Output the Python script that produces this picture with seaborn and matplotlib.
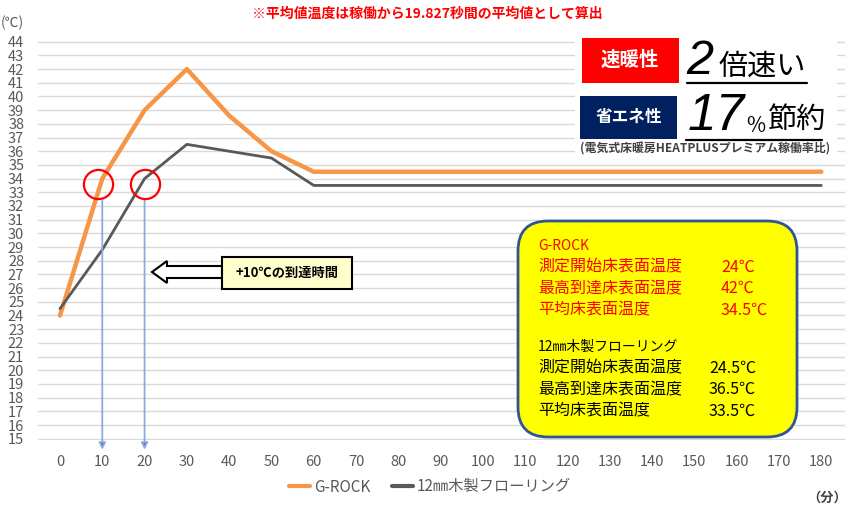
import matplotlib
matplotlib.use("Agg")
import matplotlib.pyplot as plt
import seaborn as sns
import pandas as pd
from matplotlib.transforms import Affine2D
from matplotlib.patches import Rectangle, FancyBboxPatch, Polygon
from matplotlib.lines import Line2D

# ---------------- data ----------------
minutes = [0, 10, 20, 30, 40, 50, 60, 70, 80, 90, 100, 110, 120, 130, 140, 150, 160, 170, 180]
grock = [24, 34, 39, 42, 38.6, 36, 34.5, 34.5, 34.5, 34.5, 34.5, 34.5, 34.5, 34.5, 34.5, 34.5, 34.5, 34.5, 34.5]
wood = [24.5, 28.8, 34, 36.5, 36, 35.5, 33.5, 33.5, 33.5, 33.5, 33.5, 33.5, 33.5, 33.5, 33.5, 33.5, 33.5, 33.5, 33.5]
series_names = ["G-ROCK", "12㎜木製フローリング"]
ytick_values = list(range(15, 45))
xtick_labels = [str(m) for m in minutes]
reach_minutes = [9, 20]      # red circles (time to +10℃)
reach_temp = 33.6
arrow_minutes = [10, 20]     # blue drop arrows

title = "※平均値温度は稼働から19.827秒間の平均値として算出"
grock_rows = [("測定開始床表面温度", "24℃"), ("最高到達床表面温度", "42℃"), ("平均床表面温度", "34.5℃")]
wood_rows = [("測定開始床表面温度", "24.5℃"), ("最高到達床表面温度", "36.5℃"), ("平均床表面温度", "33.5℃")]

df = pd.DataFrame({
    "minute": minutes * 2,
    "temp": grock + wood,
    "series": [series_names[0]] * len(minutes) + [series_names[1]] * len(minutes),
})

# ---------------- style ----------------
sns.set_theme(style="white")
plt.rcParams["font.family"] = ["Noto Sans CJK JP", "DejaVu Sans"]

W, H = 849, 505
fig = plt.figure(figsize=(W / 100, H / 100), dpi=100)
T = Affine2D().scale(1 / W, -1 / H).translate(0, 1) + fig.transFigure

y0, y1 = 14.9, 44.1
ppd = 13.69
top_px = 41.7 - (y1 - 44) * ppd
bot_px = 438.7 + (15 - y0) * ppd
ax = fig.add_axes([38 / W, 1 - bot_px / H, (845 - 38) / W, (bot_px - top_px) / H])

colors = {series_names[0]: "#F79646", series_names[1]: "#595959"}
widths = {series_names[0]: 3.2, series_names[1]: 2.0}
for name in series_names:
    sns.lineplot(data=df[df["series"] == name], x="minute", y="temp", ax=ax,
                 color=colors[name], linewidth=widths[name], label=name, zorder=3)

ax.set_xlim(-5.2, 185.6)
ax.set_ylim(y0, y1)
ax.set_yticks(ytick_values)
ax.set_xticks(minutes)
ax.set_xticklabels(xtick_labels)
ax.set_xlabel("")
ax.set_ylabel("")
ax.yaxis.grid(True, color="#D9D9D9", linewidth=1)
ax.xaxis.grid(False)
for s in ax.spines.values():
    s.set_visible(False)
ax.tick_params(axis="both", length=0, labelsize=10.5, colors="#595959")
ax.tick_params(axis="y", pad=10)
ax.tick_params(axis="x", pad=11)

# blue drop arrows
for m in arrow_minutes:
    ax.annotate("", xy=(m, 14.2), xytext=(m, 32.4),
                arrowprops=dict(arrowstyle="-|>", ec="#8EAADB", fc="#4472C4", lw=1.3,
                                mutation_scale=10, shrinkA=0, shrinkB=0),
                annotation_clip=False, zorder=4)

# red circles
ax.plot(reach_minutes, [reach_temp] * len(reach_minutes), "o", ms=21, mfc="none",
        mec="#FF0000", mew=1.6, clip_on=False, zorder=5)

# legend
h, l = ax.get_legend_handles_labels()
leg = ax.legend(h, l, loc="center", bbox_to_anchor=(430 / W, 1 - 487 / H),
                bbox_transform=fig.transFigure, ncol=2, frameon=False, fontsize=11,
                handlelength=1.4, handletextpad=0.25, columnspacing=1.4, labelcolor="#595959")
for ln in leg.get_lines():
    ln.set_linewidth(3)

# ---------------- annotations ----------------
def ftext(x, y, s, **kw):
    kw.setdefault("transform", T)
    kw.setdefault("zorder", 4)
    return fig.text(x, y, s, **kw)

ftext(427, 14, title, color="#FF0000", fontsize=10, fontweight="bold", ha="center", va="center")
ftext(1, 23, "(℃)", color="#595959", fontsize=10, ha="left", va="center")
ftext(847, 498, "（分）", color="#404040", fontsize=9.5, fontweight="bold", ha="right", va="center")

# top-right panel
fig.add_artist(Rectangle((575, 31), 262, 128, transform=T, fc="white", ec="none", zorder=1))
fig.add_artist(Rectangle((582, 38), 97, 45, transform=T, fc="#FF0000", ec="none", zorder=2))
fig.add_artist(Rectangle((580, 96), 97, 43, transform=T, fc="#002060", ec="none", zorder=2))
ftext(630, 60, "速暖性", color="white", fontsize=14, fontweight="bold", ha="center", va="center")
ftext(629, 117, "省エネ性", color="white", fontsize=12, fontweight="bold", ha="center", va="center")
ftext(700, 61, "2", family="Liberation Sans", style="italic", fontsize=35, color="black",
      ha="center", va="center")
ftext(719, 67, "倍速い", fontsize=21, color="black", ha="left", va="center")
ftext(716, 117, "17", family="Liberation Sans", style="italic", fontsize=37, color="black",
      ha="center", va="center")
ftext(746, 126, "%", fontsize=15, color="black", ha="left", va="center")
ftext(768, 120, "節約", fontsize=21, color="black", ha="left", va="center")
fig.add_artist(Line2D([687, 807], [83, 83], transform=T, color="black", lw=1.6, zorder=3))
fig.add_artist(Line2D([686, 822], [140, 140], transform=T, color="black", lw=1.6, zorder=3))
ftext(705, 149, "(電気式床暖房HEATPLUSプレミアム稼働率比)", fontsize=8.6, fontweight="bold",
      color="#404040", ha="center", va="center")

# block arrow with label box
arrow_pts = [(152, 272), (167, 261), (167, 266), (222, 266), (222, 278), (167, 278), (167, 283)]
fig.add_artist(Polygon(arrow_pts, closed=True, transform=T, fc="white", ec="black", lw=1.5, zorder=2))
fig.add_artist(Rectangle((222, 257), 130, 32, transform=T, fc="#FFFFCC", ec="black", lw=1.5, zorder=2))
ftext(287, 273, "+10℃の到達時間", fontsize=9.5, fontweight="bold", color="black",
      ha="center", va="center")

# yellow summary box
fig.add_artist(FancyBboxPatch((518, 221), 279, 216, boxstyle="round,pad=0,rounding_size=30",
                              transform=T, fc="#FFFF00", ec="#2F5597", lw=2, zorder=2))
ftext(538, 246, series_names[0], color="#FF0000", fontsize=10, ha="left", va="center")
for i, (lab, val) in enumerate(grock_rows):
    yy = 267 + i * 21.5
    ftext(538, yy, lab, color="#FF0000", fontsize=11.5, ha="left", va="center")
    ftext(721, yy, val, color="#FF0000", fontsize=11.5, ha="left", va="center")
ftext(538, 347, series_names[1], color="black", fontsize=10, ha="left", va="center")
for i, (lab, val) in enumerate(wood_rows):
    yy = 368 + i * 21.5
    ftext(538, yy, lab, color="black", fontsize=11.5, ha="left", va="center")
    ftext(709, yy, val, color="black", fontsize=11.5, ha="left", va="center")

fig.savefig("out.png", dpi=100)
